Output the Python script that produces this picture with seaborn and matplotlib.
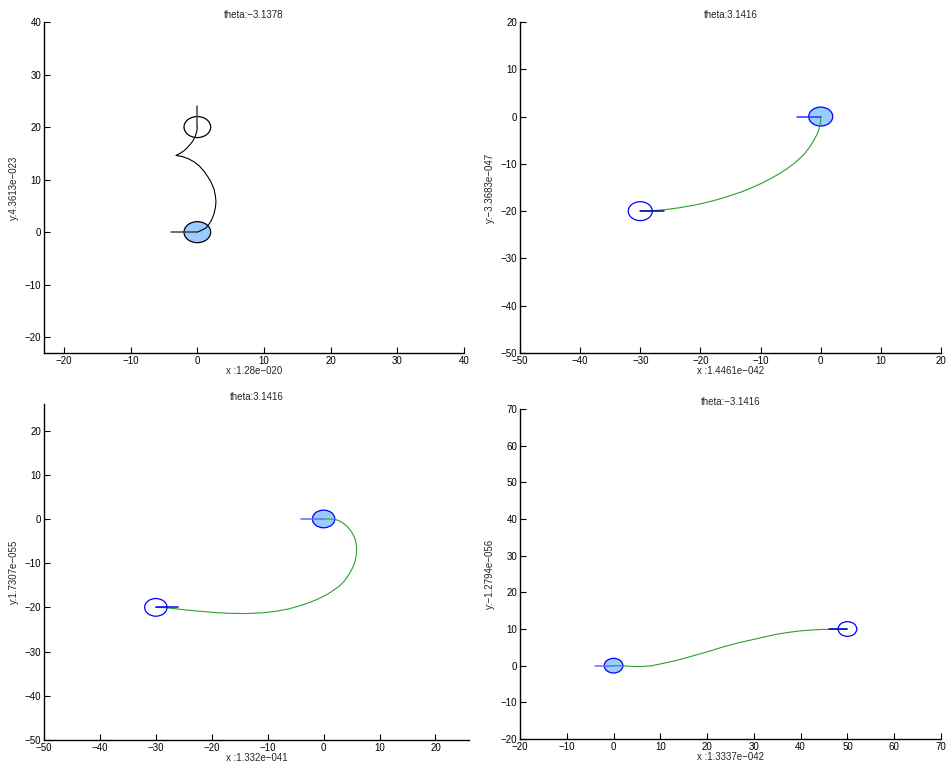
"""Four Reeds-Shepp style path plots (start pose filled, goal pose empty)."""
import numpy as np
import pandas as pd

import matplotlib
matplotlib.use("Agg")
import matplotlib.pyplot as plt
from matplotlib.patches import Ellipse
import seaborn as sns

# ---------------------------------------------------------------------------
# data
# ---------------------------------------------------------------------------
PATH1_X = [0.0, 0.7, 1.3, 1.8, 2.2, 2.5, 2.7, 2.8, 2.7, 2.5, 2.1, 1.6,
           1.0, 0.3, -0.5, -1.4, -2.3, -3.2,
           -2.6, -2.0, -1.5, -1.0, -0.6, -0.3, -0.1, 0.0]
PATH1_Y = [0.0, 0.4, 0.8, 1.6, 2.5, 3.5, 4.6, 5.8, 7.0, 8.2, 9.4, 10.5,
           11.6, 12.6, 13.4, 14.0, 14.4, 14.6,
           15.0, 15.5, 16.1, 16.8, 17.5, 18.3, 19.1, 20.0]

PATH2_X = [0.0, 0.0, -0.1, -0.3, -0.6, -1.0, -1.5, -2.1, -2.8, -3.6, -4.6,
           -5.7, -6.9, -8.3, -9.8, -11.4, -13.1, -15.0, -17.0, -19.1, -21.3,
           -23.6, -26.0, -28.0, -30.0]
PATH2_Y = [0.0, -0.8, -1.7, -2.7, -3.7, -4.7, -5.8, -6.9, -8.0, -9.0, -10.1,
           -11.1, -12.1, -13.1, -14.1, -15.0, -15.9, -16.7, -17.5, -18.2,
           -18.8, -19.3, -19.7, -19.9, -20.0]

PATH3_X = [0.0, 1.0, 2.1, 2.9, 3.6, 4.2, 4.8, 5.2, 5.6, 5.8, 5.9, 5.85, 5.6,
           5.25, 4.8, 4.25, 3.6, 2.8, 1.8, 0.6, -0.8, -2.5, -4.4, -6.4, -8.6,
           -11.2, -13.9, -16.6, -19.2, -21.9, -24.6, -26.5, -28.1, -30.0]
PATH3_Y = [0.0, 0.0, -0.1, -0.5, -1.05, -1.7, -2.55, -3.4, -4.4, -5.5, -6.7,
           -8.2, -9.7, -10.9, -12.0, -13.1, -14.2, -15.2, -16.1, -17.1, -18.0,
           -18.9, -19.7, -20.4, -20.9, -21.25, -21.4, -21.35, -21.2, -20.9,
           -20.6, -20.3, -20.1, -20.0]

PATH4_X = [0.0, 1.5, 2.9, 4.0, 5.1, 6.5, 8.0, 9.4, 10.8, 13.0, 15.1, 17.6,
           20.1, 22.6, 25.1, 27.6, 30.1, 32.5, 35.0, 37.5, 40.0, 42.5, 45.0,
           47.5, 50.0]
PATH4_Y = [0.0, -0.03, -0.1, -0.2, -0.25, -0.2, -0.05, 0.3, 0.7, 1.3, 2.0,
           2.9, 3.8, 4.8, 5.7, 6.5, 7.2, 7.9, 8.6, 9.1, 9.5, 9.75, 9.9, 9.97,
           10.0]

# (x, y, heading) of start and goal
START_POSES = [(0, 0, np.pi), (0, 0, np.pi), (0, 0, np.pi), (0, 0, np.pi)]
GOAL_POSES = [(0, 20, np.pi / 2), (-30, -20, 0.0), (-30, -20, 0.0), (50, 10, np.pi)]

TITLES = ["theta:\u22123.1378", "theta:3.1416", "theta:3.1416", "theta:\u22123.1416"]
XLABELS = ["x :1.28e\u2212020", "x :1.4461e\u2212042",
           "x :1.332e\u2212041", "x :1.3337e\u2212042"]
YLABELS = ["y:4.3613e\u2212023", "y:\u22123.3683e\u2212047",
           "y:1.7307e\u2212055", "y:\u22121.2794e\u2212056"]
XLIMS = [(-23, 40), (-50, 20), (-50, 26), (-20, 70)]
YLIMS = [(-23, 40), (-50, 20), (-50, 26), (-20, 70)]
XTICKS = [range(-20, 41, 10), range(-50, 21, 10), range(-50, 21, 10), range(-20, 71, 10)]
YTICKS = [range(-20, 41, 10), range(-50, 21, 10), range(-50, 21, 10), range(-20, 71, 10)]

PATHS = [(PATH1_X, PATH1_Y), (PATH2_X, PATH2_Y), (PATH3_X, PATH3_Y), (PATH4_X, PATH4_Y)]

RADIUS = 2.0        # vehicle circle radius
ARROW_LEN = 4.0     # heading tick length

# axes boxes in pixels (left, top, right, bottom) on a 948x770 canvas
BOXES = [(44, 22, 464, 353), (520, 22, 941, 353),
         (44, 404, 469, 740), (520, 409, 941, 739)]

# first panel is drawn in black, the others in blue / green
EDGE_COLORS = ["black", "#0000ff", "#0000ff", "#0000ff"]
PATH_COLORS = ["black", "#2e9e2e", "#2e9e2e", "#2e9e2e"]
START_LINE_COLORS = ["#444444", "#3030ff", "#6a6aff", "#6a6aff"]
GOAL_LINE_COLORS = ["#444444", "#0000b0", "#0000ff", "#0000c0"]
FILL = "#99ccff"

sns.set_theme(style="ticks")
plt.rcParams["font.family"] = ["Liberation Sans", "DejaVu Sans"]
plt.rcParams["font.size"] = 7
plt.rcParams["axes.unicode_minus"] = True


def heading_line(pose):
    x, y, th = pose
    return [x, x + ARROW_LEN * np.cos(th)], [y, y + ARROW_LEN * np.sin(th)]


def draw_panel(ax, i):
    px, py = PATHS[i]
    df = pd.DataFrame({"x": px, "y": py})
    sns.lineplot(data=df, x="x", y="y", sort=False, estimator=None,
                 color=PATH_COLORS[i], lw=0.8, ax=ax)

    sx, sy, _ = START_POSES[i]
    gx, gy, _ = GOAL_POSES[i]
    w = 2 * RADIUS
    ax.add_patch(Ellipse((sx, sy), w, w, facecolor=FILL,
                         edgecolor=EDGE_COLORS[i], lw=0.9, zorder=1))
    ax.add_patch(Ellipse((gx, gy), w, w, facecolor="none",
                         edgecolor=EDGE_COLORS[i], lw=0.9, zorder=1))

    hx, hy = heading_line(START_POSES[i])
    ax.plot(hx, hy, color=START_LINE_COLORS[i], lw=1.1, zorder=3)
    hx, hy = heading_line(GOAL_POSES[i])
    ax.plot(hx, hy, color=GOAL_LINE_COLORS[i], lw=1.1, zorder=3)

    ax.set_xlim(XLIMS[i])
    ax.set_ylim(YLIMS[i])
    ax.set_xticks(list(XTICKS[i]))
    ax.set_yticks(list(YTICKS[i]))
    ax.set_title(TITLES[i], fontsize=7, pad=3)
    ax.set_xlabel(XLABELS[i], fontsize=7, labelpad=0)
    ax.set_ylabel(YLABELS[i], fontsize=7, labelpad=4)
    ax.tick_params(direction="in", length=4, width=0.8, labelsize=7,
                   pad=2, colors="black")
    sns.despine(ax=ax)
    for side in ("left", "bottom"):
        ax.spines[side].set_linewidth(1.0)
        ax.spines[side].set_color("black")


fig = plt.figure(figsize=(9.48, 7.70), dpi=100)
W, H = 948.0, 770.0
for i, (l, t, r, b) in enumerate(BOXES):
    ax = fig.add_axes([l / W, 1 - b / H, (r - l) / W, (b - t) / H])
    draw_panel(ax, i)

fig.savefig("out.png", dpi=100, facecolor="white")
plt.close(fig)
